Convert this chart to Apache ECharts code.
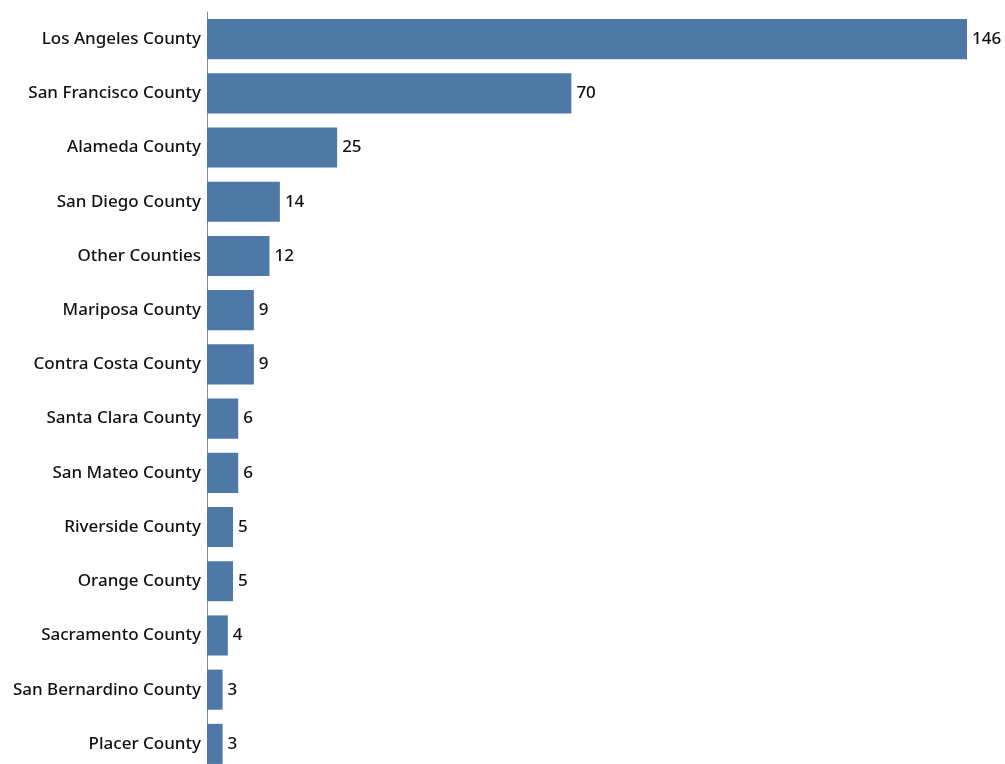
<!DOCTYPE html>
<html>
<head>
<meta charset="utf-8">
<script src="https://cdn.jsdelivr.net/npm/echarts@6/dist/echarts.min.js"></script>
<style>
	html, body { margin: 0; padding: 0; background: #fff; }
	#chart { width: 1005px; height: 764px; }
</style>
</head>
<body>
<div id="chart"></div>
<script>
// 县名（从上到下）
const counties = [
	'Los Angeles County', 'San Francisco County', 'Alameda County', 'San Diego County',
	'Other Counties', 'Mariposa County', 'Contra Costa County', 'Santa Clara County',
	'San Mateo County', 'Riverside County', 'Orange County', 'Sacramento County',
	'San Bernardino County', 'Placer County'
]
// 数量
const counts = [146, 70, 25, 14, 12, 9, 9, 6, 6, 5, 5, 4, 3, 3]

const chart = echarts.init(document.getElementById('chart'))
const font = '"Noto Sans", "DejaVu Sans", sans-serif'

chart.setOption({
	animation: false,
	grid: {
		left: 207,
		top: 12,
		width: 760,
		height: 759,
		outerBoundsMode: 'none'
	},
	xAxis: {
		type: 'value',
		min: 0,
		max: 146,
		show: false
	},
	yAxis: {
		type: 'category',
		data: counties,
		inverse: true,
		axisLine: { show: true, lineStyle: { color: '#8c8c8c', width: 1 } },
		axisTick: { show: false },
		axisLabel: {
			color: '#111',
			fontSize: 17,
			fontWeight: 500,
			fontFamily: font,
			margin: 6,
			padding: [3, 0, 0, 0]
		}
	},
	series: [
		{
			type: 'bar',
			data: counts,
			barCategoryGap: '26%',
			itemStyle: { color: '#4e79a7' },
			label: {
				show: true,
				position: 'right',
				distance: 5,
				color: '#111',
				fontSize: 17,
				fontWeight: 500,
				fontFamily: font,
				padding: [3, 0, 0, 0]
			}
		}
	]
})
</script>
</body>
</html>
